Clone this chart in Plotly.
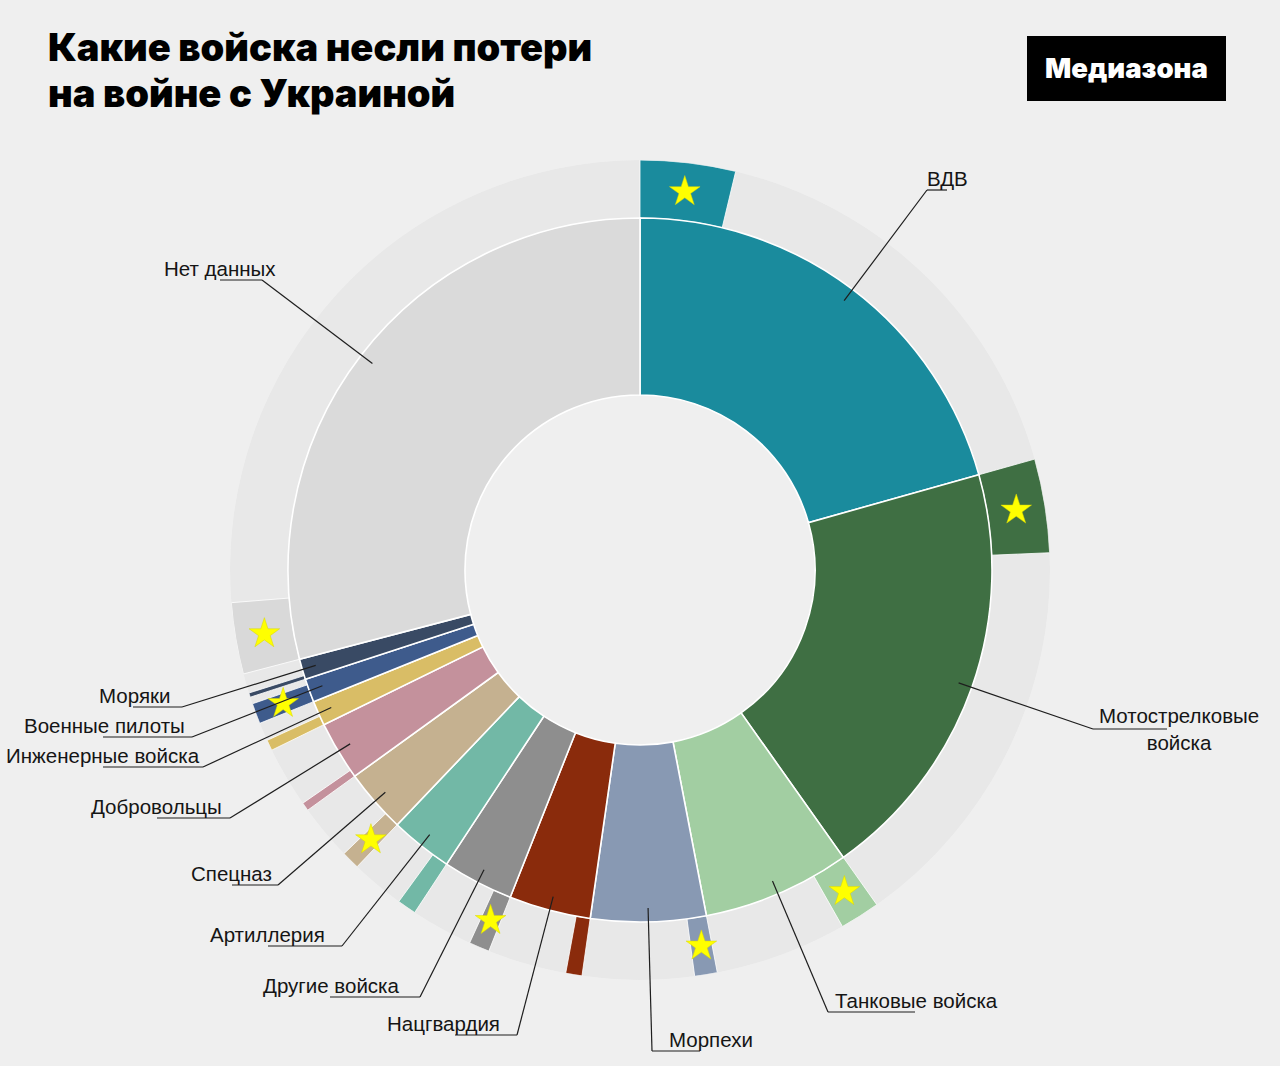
import math
import plotly.graph_objects as go

# ---------------- data (% of all losses) ----------------
categories = ["ВДВ", "Мотострелковые войска", "Танковые войска", "Морпехи", "Нацгвардия",
              "Другие войска", "Артиллерия", "Спецназ", "Добровольцы", "Инженерные войска",
              "Военные пилоты", "Моряки", "Нет данных"]
total_share = [20.64, 19.56, 6.78, 5.28, 3.75, 3.25, 2.86, 2.92, 2.72, 1.14, 1.08, 0.94, 29.08]
officer_share = [3.75, 3.69, 1.58, 0.89, 0.64, 0.81, 0.75, 0.72, 0.33, 0.42, 0.81, 0.17, 2.81]
label_texts = ["ВДВ", "Мотострелковые<br>войска", "Танковые войска", "Морпехи", "Нацгвардия",
               "Другие войска", "Артиллерия", "Спецназ", "Добровольцы", "Инженерные войска",
               "Военные пилоты", "Моряки", "Нет данных"]
has_star = [True, True, True, True, False, True, False, True, False, False, True, False, True]

# ---------------- styles ----------------
colors = ["#1a8b9d", "#3f6f43", "#a2cea2", "#8899b3", "#8a2b0c", "#8e8e8e", "#72b8a6",
          "#c5b190", "#c4919c", "#d9bd66", "#3e5b8c", "#394a64", "#dadada"]
outer_colors = colors[:-1] + ["#d9d9d9"]
REST = "#e8e8e8"
BG = "#efefef"

W, H = 1280, 1066
CX, CY, RMAX = 640, 570, 410
HOLE, R_IN, R_OUT = 175, 352, 410

# label layout (pixel positions): text centre, underline x0/x1/y, elbow x
label_layout = {
    "ВДВ": dict(tx=947, ty=178, ux0=927, ux1=947, uy=190, ex=927),
    "Мотострелковые войска": dict(tx=1179, ty=729, ux0=1093, ux1=1167, uy=729, ex=1093),
    "Танковые войска": dict(tx=916, ty=1000, ux0=828, ux1=915, uy=1012, ex=828),
    "Морпехи": dict(tx=711, ty=1039, ux0=652, ux1=700, uy=1051, ex=652),
    "Нацгвардия": dict(tx=443, ty=1023, ux0=455, ux1=517, uy=1035, ex=517),
    "Другие войска": dict(tx=331, ty=985, ux0=330, ux1=420, uy=997, ex=420),
    "Артиллерия": dict(tx=267, ty=934, ux0=268, ux1=342, uy=946, ex=342),
    "Спецназ": dict(tx=231, ty=873, ux0=232, ux1=278, uy=885, ex=278),
    "Добровольцы": dict(tx=156, ty=806, ux0=157, ux1=230, uy=818, ex=230),
    "Инженерные войска": dict(tx=103, ty=755, ux0=103, ux1=203, uy=767, ex=203),
    "Военные пилоты": dict(tx=104, ty=725, ux0=103, ux1=192, uy=737, ex=192),
    "Моряки": dict(tx=134, ty=695, ux0=133, ux1=182, uy=707, ex=182),
    "Нет данных": dict(tx=220, ty=268, ux0=220, ux1=262, uy=280, ex=262),
}

# ---------------- geometry from data ----------------
total = sum(total_share)
scale = 360.0 / total
starts, widths, owidths = [], [], []
acc = 0.0
for v, o in zip(total_share, officer_share):
    starts.append(acc * scale)
    widths.append(v * scale)
    owidths.append(o * scale)
    acc += v

inner_theta = [s + w / 2 for s, w in zip(starts, widths)]
outer_theta = [s + ow / 2 for s, ow in zip(starts, owidths)]
rest_theta = [s + ow + (w - ow) / 2 for s, w, ow in zip(starts, widths, owidths)]
rest_width = [w - ow for w, ow in zip(widths, owidths)]

fig = go.Figure()

# outer ring: remaining part (light gray)
fig.add_trace(go.Barpolar(
    theta=rest_theta, width=rest_width, r=[R_OUT - R_IN] * len(categories),
    base=[R_IN] * len(categories),
    marker=dict(color=REST, line=dict(width=0)),
    hoverinfo="skip", showlegend=False))

# outer ring: officer part (coloured)
fig.add_trace(go.Barpolar(
    theta=outer_theta, width=owidths, r=[R_OUT - R_IN] * len(categories),
    base=[R_IN] * len(categories),
    marker=dict(color=outer_colors, line=dict(color="white", width=0.8)),
    hoverinfo="skip", showlegend=False))

# inner ring
fig.add_trace(go.Barpolar(
    theta=inner_theta, width=widths, r=[R_IN - HOLE] * len(categories),
    base=[HOLE] * len(categories),
    marker=dict(color=colors, line=dict(color="white", width=1.6)),
    hoverinfo="skip", showlegend=False))

# stars in outer segments
st_theta = [t for t, f in zip(outer_theta, has_star) if f]
fig.add_trace(go.Scatterpolar(
    theta=st_theta, r=[(R_IN + R_OUT) / 2] * len(st_theta), mode="markers",
    marker=dict(symbol="star", size=23, color="#ffff00",
                line=dict(color="#d8d800", width=0.5)),
    hoverinfo="skip", showlegend=False))


def px2paper(x, y):
    return x / W, 1 - y / H


shapes = []
annotations = []
LINE = dict(color="#1e1e1e", width=1.2)
for cat, txt, th in zip(categories, label_texts, inner_theta):
    L = label_layout[cat]
    rr = 338
    ix = CX + rr * math.sin(math.radians(th))
    iy = CY - rr * math.cos(math.radians(th))
    x0, y0 = px2paper(ix, iy)
    x1, y1 = px2paper(L["ex"], L["uy"])
    shapes.append(dict(type="line", xref="paper", yref="paper", x0=x0, y0=y0, x1=x1, y1=y1, line=LINE))
    ux0, uy = px2paper(L["ux0"], L["uy"])
    ux1, _ = px2paper(L["ux1"], L["uy"])
    shapes.append(dict(type="line", xref="paper", yref="paper", x0=ux0, y0=uy, x1=ux1, y1=uy, line=LINE))
    ax, ay = px2paper(L["tx"], L["ty"])
    annotations.append(dict(text=txt, x=ax, y=ay, xref="paper", yref="paper",
                            xanchor="center", yanchor="middle", showarrow=False,
                            align="center",
                            font=dict(family="Liberation Sans, Arial, sans-serif", size=20.5, color="#151515")))

# title
for i, line in enumerate(["Какие войска несли потери", "на войне с Украиной"]):
    tx, ty = px2paper(46, 47 + i * 46)
    annotations.append(dict(text=line, x=tx, y=ty, xref="paper", yref="paper",
                            xanchor="left", yanchor="middle", showarrow=False,
                            font=dict(family="Inter, Roboto, sans-serif", size=38, color="#000000", weight=900)))

# logo
lx0, ly0 = px2paper(1027, 36)
lx1, ly1 = px2paper(1226, 101)
shapes.append(dict(type="rect", xref="paper", yref="paper", x0=lx0, y0=ly1, x1=lx1, y1=ly0,
                   fillcolor="#000000", line=dict(width=0), layer="below"))
mx, my = px2paper(1126, 68)
annotations.append(dict(text="Медиазона", x=mx, y=my, xref="paper", yref="paper",
                        xanchor="center", yanchor="middle", showarrow=False,
                        font=dict(family="Inter, Roboto, sans-serif", size=27.5, color="#ffffff", weight=900)))

dx0, dy1 = px2paper(CX - RMAX, CY - RMAX)
dx1, dy0 = px2paper(CX + RMAX, CY + RMAX)
fig.update_layout(
    width=W, height=H, margin=dict(l=0, r=0, t=0, b=0),
    paper_bgcolor=BG, plot_bgcolor=BG,
    polar=dict(
        domain=dict(x=[dx0, dx1], y=[dy0, dy1]),
        bgcolor="rgba(0,0,0,0)",
        hole=0,
        bargap=0,
        radialaxis=dict(visible=False, range=[0, RMAX]),
        angularaxis=dict(visible=False, rotation=90, direction="clockwise", thetaunit="degrees"),
    ),
    shapes=shapes, annotations=annotations, showlegend=False,
)

fig.write_html("out.html", config={"displayModeBar": False},
               post_script="document.body.style.margin='0';document.body.style.overflow='hidden';"
                           "document.body.style.background='" + BG + "';")
